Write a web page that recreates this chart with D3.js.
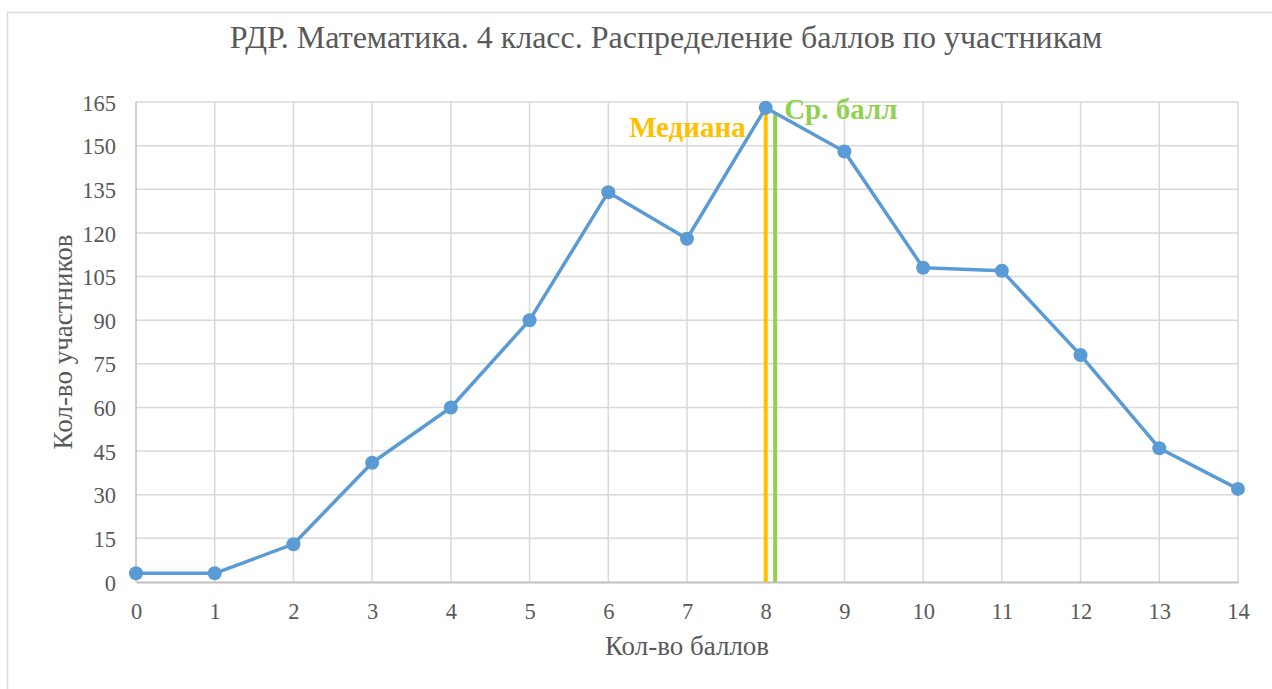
<!DOCTYPE html>
<html lang="ru">
<head>
<meta charset="UTF-8">
<title>РДР. Математика. 4 класс</title>
<script src="https://d3js.org/d3.v7.min.js"></script>
<style>
  html, body { margin: 0; padding: 0; background: #fff; }
</style>
</head>
<body>
<div class="chart"></div>
<script>
// данные с графика
const scores = [0, 1, 2, 3, 4, 5, 6, 7, 8, 9, 10, 11, 12, 13, 14]
const participants = [3, 3, 13, 41, 60, 90, 134, 118, 163, 148, 108, 107, 78, 46, 32]
const yTicks = [0, 15, 30, 45, 60, 75, 90, 105, 120, 135, 150, 165]
const median = 8
const medianTop = 163
const mean = 8.12
const meanTop = 161

const title = 'РДР. Математика. 4 класс. Распределение баллов по участникам'
const xTitle = 'Кол-во баллов'
const yTitle = 'Кол-во участников'

const FONT = "'Liberation Serif', 'Times New Roman', 'DejaVu Serif', serif"
const width = 1272, height = 689
const plot = { left: 136, right: 1238, top: 102, bottom: 582 }

const svg = d3.select('.chart')
  .append('svg')
  .attr('width', width)
  .attr('height', height)
  .attr('font-family', FONT)

// рамка области диаграммы
svg.append('rect')
  .attr('x', 7.5).attr('y', 12.5)
  .attr('width', width + 20).attr('height', height + 20)
  .attr('fill', '#fff')
  .attr('stroke', '#d9d9d9')
  .attr('stroke-width', 1.5)

const xScale = d3.scaleLinear()
  .domain([0, 14])
  .range([plot.left, plot.right])

const yScale = d3.scaleLinear()
  .domain([0, 165])
  .range([plot.bottom, plot.top])

// сетка
svg.append('g')
  .selectAll('line')
  .data(yTicks.slice(1))
  .join('line')
  .attr('x1', plot.left).attr('x2', plot.right)
  .attr('y1', d => yScale(d)).attr('y2', d => yScale(d))
  .attr('stroke', '#d9d9d9')
  .attr('stroke-width', 1.5)

svg.append('g')
  .selectAll('line')
  .data(scores)
  .join('line')
  .attr('x1', d => xScale(d)).attr('x2', d => xScale(d))
  .attr('y1', plot.top).attr('y2', plot.bottom)
  .attr('stroke', d => d === 0 ? '#bfbfbf' : '#d9d9d9')
  .attr('stroke-width', 1.5)

// ось X
const xAxis = d3.axisBottom(xScale)
  .tickValues(scores)
  .tickSize(0)
  .tickPadding(21)
  .tickFormat(d3.format('d'))

const xAxisGroup = svg.append('g')
  .attr('transform', `translate(0,${plot.bottom})`)
  .call(xAxis)
  .attr('font-family', FONT)
  .attr('font-size', 22.5)
xAxisGroup.select('.domain').attr('stroke', '#bfbfbf').attr('stroke-width', 2)
xAxisGroup.selectAll('text').attr('fill', '#595959')

// ось Y
const yAxis = d3.axisLeft(yScale)
  .tickValues(yTicks)
  .tickSize(0)
  .tickPadding(20)

const yAxisGroup = svg.append('g')
  .attr('transform', `translate(${plot.left},0)`)
  .call(yAxis)
  .attr('font-family', FONT)
  .attr('font-size', 22.5)
yAxisGroup.select('.domain').remove()
yAxisGroup.selectAll('text')
  .attr('fill', '#595959')
  .attr('dy', '0.36em')

// медиана и средний балл
svg.append('line')
  .attr('x1', xScale(median)).attr('x2', xScale(median))
  .attr('y1', yScale(0)).attr('y2', yScale(medianTop))
  .attr('stroke', '#ffc000')
  .attr('stroke-width', 4)

svg.append('line')
  .attr('x1', xScale(mean)).attr('x2', xScale(mean))
  .attr('y1', yScale(0)).attr('y2', yScale(meanTop))
  .attr('stroke', '#92d050')
  .attr('stroke-width', 4)

// линия данных
const line = d3.line()
  .x((d, i) => xScale(scores[i]))
  .y(d => yScale(d))

svg.append('path')
  .datum(participants)
  .attr('d', line)
  .attr('fill', 'none')
  .attr('stroke', '#5b9bd5')
  .attr('stroke-width', 3.5)
  .attr('stroke-linejoin', 'round')

svg.append('g')
  .selectAll('circle')
  .data(participants)
  .join('circle')
  .attr('cx', (d, i) => xScale(scores[i]))
  .attr('cy', d => yScale(d))
  .attr('r', 7)
  .attr('fill', '#5b9bd5')

// подписи линий
svg.append('text')
  .attr('x', xScale(median) - 20)
  .attr('y', 137)
  .attr('text-anchor', 'end')
  .attr('fill', '#ffc000')
  .attr('font-size', 29)
  .attr('font-weight', 'bold')
  .text('Медиана')

svg.append('text')
  .attr('x', xScale(mean) + 9)
  .attr('y', 119)
  .attr('fill', '#92d050')
  .attr('font-size', 29)
  .attr('font-weight', 'bold')
  .text('Ср. балл')

// заголовки
svg.append('text')
  .attr('x', 666)
  .attr('y', 48)
  .attr('text-anchor', 'middle')
  .attr('fill', '#595959')
  .attr('font-size', 32)
  .text(title)

svg.append('text')
  .attr('x', (plot.left + plot.right) / 2)
  .attr('y', 655)
  .attr('text-anchor', 'middle')
  .attr('fill', '#595959')
  .attr('font-size', 27)
  .text(xTitle)

svg.append('text')
  .attr('transform', `translate(72,${(plot.top + plot.bottom) / 2}) rotate(-90)`)
  .attr('text-anchor', 'middle')
  .attr('fill', '#595959')
  .attr('font-size', 27)
  .text(yTitle)
</script>
</body>
</html>
